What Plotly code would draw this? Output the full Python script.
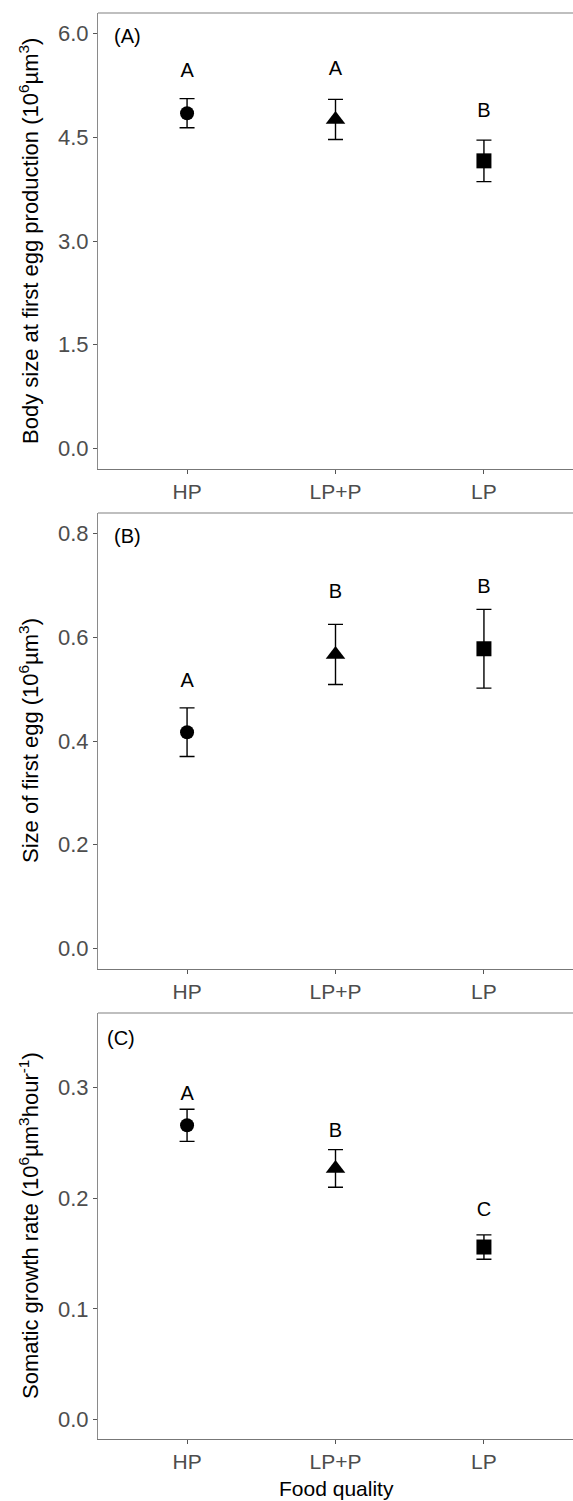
import plotly.graph_objects as go

categories = ["HP", "LP+P", "LP"]
symbols = ["circle", "triangle-up", "square"]

body_mean = [4.85, 4.76, 4.16]
body_se = [0.21, 0.29, 0.30]
body_letters = ["A", "A", "B"]
body_letter_y = [5.44, 5.47, 4.86]

egg_mean = [0.417, 0.567, 0.578]
egg_se = [0.047, 0.058, 0.076]
egg_letters = ["A", "B", "B"]
egg_letter_y = [0.514, 0.685, 0.696]

growth_mean = [0.266, 0.227, 0.156]
growth_se = [0.0145, 0.017, 0.011]
growth_letters = ["A", "B", "C"]
growth_letter_y = [0.293, 0.260, 0.189]

W, H = 573, 1501
FONT = "Liberation Sans, Arial, sans-serif"

panels = [
    dict(mean=body_mean, se=body_se, letters=body_letters, ly=body_letter_y,
         top=13, bottom=469, yrange=[-0.30, 6.30], ticks=[0, 1.5, 3.0, 4.5, 6.0],
         ticktext=["0.0", "1.5", "3.0", "4.5", "6.0"], tag="(A)", tagx=112, tagy=36,
         title="Body size at first egg production (10<sup>6</sup>µm<sup>3</sup>)"),
    dict(mean=egg_mean, se=egg_se, letters=egg_letters, ly=egg_letter_y,
         top=513, bottom=969, yrange=[-0.04, 0.84], ticks=[0, 0.2, 0.4, 0.6, 0.8],
         ticktext=["0.0", "0.2", "0.4", "0.6", "0.8"], tag="(B)", tagx=112, tagy=536,
         title="Size of first egg (10<sup>6</sup>µm<sup>3</sup>)"),
    dict(mean=growth_mean, se=growth_se, letters=growth_letters, ly=growth_letter_y,
         top=1013, bottom=1439, yrange=[-0.0175, 0.3675], ticks=[0, 0.1, 0.2, 0.3],
         ticktext=["0.0", "0.1", "0.2", "0.3"], tag="(C)", tagx=105, tagy=1038,
         title="Somatic growth rate (10<sup>6</sup>µm<sup>3</sup>hour<sup>-1</sup>)"),
]

fig = go.Figure()
layout = dict(width=W, height=H, margin=dict(l=0, r=0, t=0, b=0),
              paper_bgcolor="white", plot_bgcolor="white", showlegend=False,
              font=dict(family=FONT))
annotations = []
shapes = []
x_left = 98 / W

for i, p in enumerate(panels, start=1):
    xa = "x" if i == 1 else f"x{i}"
    ya = "y" if i == 1 else f"y{i}"
    fig.add_trace(go.Scatter(
        x=categories, y=p["mean"], xaxis=xa, yaxis=ya, mode="markers",
        marker=dict(symbol=symbols, size=[14, 17, 15], color="black",
                    opacity=1, line=dict(width=0)),
        error_y=dict(type="data", array=p["se"], visible=True, color="black",
                     thickness=1.4, width=7.5),
    ))
    fig.add_trace(go.Scatter(
        x=categories, y=p["ly"], xaxis=xa, yaxis=ya, mode="text",
        text=p["letters"], textfont=dict(size=20, color="black", family=FONT),
        textposition="middle center",
    ))
    ydom = [1 - p["bottom"] / H, 1 - p["top"] / H]
    axkey = "xaxis" if i == 1 else f"xaxis{i}"
    aykey = "yaxis" if i == 1 else f"yaxis{i}"
    layout[axkey] = dict(
        domain=[x_left, 1.0], anchor=ya, type="category",
        categoryorder="array", categoryarray=categories, range=[-0.6, 2.6],
        showline=True, linecolor="#777777", linewidth=1.2, mirror=False,
        ticks="outside", ticklen=4, tickcolor="#555555", tickwidth=1,
        showgrid=False, zeroline=False,
        tickfont=dict(size=21, color="#4d4d4d", family=FONT),
    )
    layout[aykey] = dict(
        domain=ydom, anchor=xa, range=p["yrange"],
        tickvals=p["ticks"], ticktext=p["ticktext"],
        showline=True, linecolor="#8a8a8a", linewidth=1.2,
        ticks="outside", ticklen=4, tickcolor="#555555", tickwidth=1,
        showgrid=False, zeroline=False,
        tickfont=dict(size=22, color="#4d4d4d", family=FONT),
    )
    shapes.append(dict(type="line", xref=f"{xa} domain", yref=f"{ya} domain",
                       x0=0, x1=1, y0=1, y1=1,
                       line=dict(color="#aaaaaa", width=1.5)))
    annotations.append(dict(
        text=p["tag"], xref="paper", yref="paper", x=p["tagx"] / W,
        y=1 - p["tagy"] / H, xanchor="left", yanchor="middle", showarrow=False,
        font=dict(size=20, color="black", family=FONT)))
    annotations.append(dict(
        text=p["title"], xref="paper", yref="paper", x=29 / W,
        y=1 - (p["top"] + p["bottom"]) / 2 / H, xanchor="center",
        yanchor="middle", textangle=-90, showarrow=False,
        font=dict(size=22, color="black", family=FONT)))

annotations.append(dict(
    text="Food quality", xref="paper", yref="paper", x=336 / W, y=1 - 1488 / H,
    xanchor="center", yanchor="middle", showarrow=False,
    font=dict(size=21, color="black", family=FONT)))

layout["annotations"] = annotations
layout["shapes"] = shapes
fig.update_layout(**layout)
fig.write_html("out.html")
